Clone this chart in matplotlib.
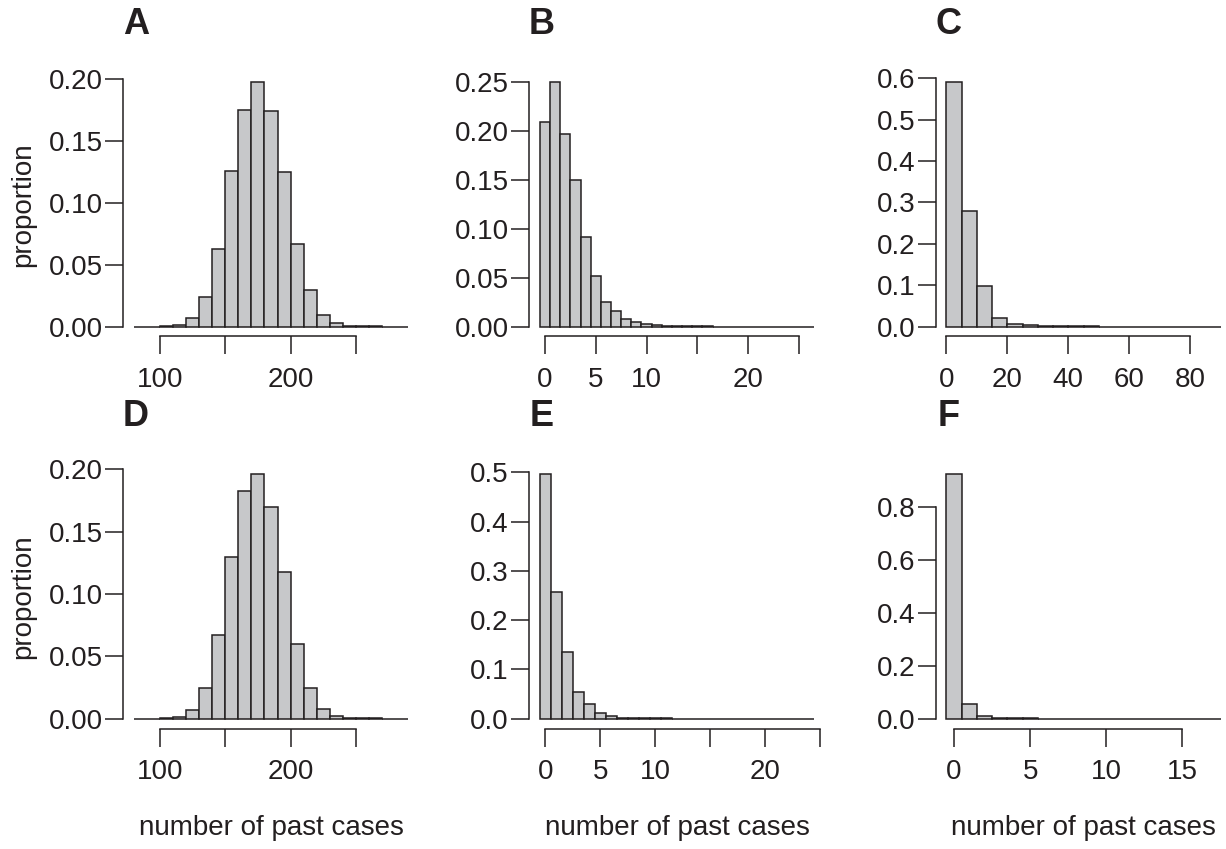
import numpy as np
import matplotlib
matplotlib.use("Agg")
from matplotlib import pyplot as plt

plt.rcParams['font.family'] = ['Liberation Sans', 'DejaVu Sans']

ink = '#231f20'
fill = '#c7c8ca'

# proportions of simulations per bin
# A / D: bins of width 10 starting at 80
a_props = [0, 0, 0.0005, 0.0013, 0.0067, 0.024, 0.063, 0.126, 0.175, 0.198, 0.174,
           0.125, 0.067, 0.030, 0.0094, 0.003, 0.0006, 0.0003, 0.0002, 0, 0]
d_props = [0, 0, 0.0003, 0.001, 0.0073, 0.0247, 0.0675, 0.130, 0.183, 0.1965, 0.1696,
           0.1175, 0.060, 0.0245, 0.0078, 0.0022, 0.0005, 0.0003, 0.0002, 0, 0]
# B / E / F: one bin per integer count, starting at 0
b_props = [0.2085, 0.25, 0.1966, 0.1497, 0.0912, 0.052, 0.0248, 0.0163, 0.0078, 0.0048,
           0.003, 0.0017, 0.001, 0.0006, 0.0005, 0.0004, 0.0003, 0.0002,
           0, 0, 0, 0, 0, 0, 0, 0, 0]
e_props = [0.497, 0.2565, 0.1347, 0.055, 0.0306, 0.0122, 0.0054, 0.002, 0.0014, 0.0008,
           0.0006, 0.0005, 0, 0, 0, 0, 0, 0, 0, 0, 0, 0, 0, 0, 0]
f_props = [0.925, 0.0544, 0.010, 0.004, 0.0015, 0.0008, 0.0006,
           0, 0, 0, 0, 0, 0, 0, 0, 0, 0, 0]
# C: bins of width 5 starting at 0
c_props = [0.591, 0.280, 0.098, 0.020, 0.0065, 0.0035, 0.002, 0.0012, 0.001, 0.0008,
           0, 0, 0, 0, 0, 0, 0, 0]

panels = [
    # letter, props, first bin edge, bin width, yticks, ylabels, xticks, xlabels
    ('A', a_props, 80, 10, [0, 0.05, 0.10, 0.15, 0.20], ['0.00', '0.05', '0.10', '0.15', '0.20'],
     [100, 150, 200, 250], ['100', '', '200', '']),
    ('B', b_props, -0.5, 1, [0, 0.05, 0.10, 0.15, 0.20, 0.25],
     ['0.00', '0.05', '0.10', '0.15', '0.20', '0.25'],
     [0, 5, 10, 15, 20, 25], ['0', '5', '10', '', '20', '']),
    ('C', c_props, 0, 5, [0, 0.1, 0.2, 0.3, 0.4, 0.5, 0.6],
     ['0.0', '0.1', '0.2', '0.3', '0.4', '0.5', '0.6'],
     [0, 20, 40, 60, 80], ['0', '20', '40', '60', '80']),
    ('D', d_props, 80, 10, [0, 0.05, 0.10, 0.15, 0.20], ['0.00', '0.05', '0.10', '0.15', '0.20'],
     [100, 150, 200, 250], ['100', '', '200', '']),
    ('E', e_props, -0.5, 1, [0, 0.1, 0.2, 0.3, 0.4, 0.5],
     ['0.0', '0.1', '0.2', '0.3', '0.4', '0.5'],
     [0, 5, 10, 15, 20, 25], ['0', '5', '10', '', '20', '']),
    ('F', f_props, -0.5, 1, [0, 0.2, 0.4, 0.6, 0.8], ['0.0', '0.2', '0.4', '0.6', '0.8'],
     [0, 5, 10, 15], ['0', '5', '10', '15']),
]

W, H = 1226, 849
fig = plt.figure(figsize=(W / 100, H / 100), dpi=100)

col_left = [123, 529, 935.5]
row_top = [72, 464]
ax_w, ax_h = 296, 264.5

for i, (letter, props, start, width, yt, ylab, xt, xlab) in enumerate(panels):
    r, c = divmod(i, 3)
    left, top = col_left[c], row_top[r]
    ax = fig.add_axes([left / W, 1 - (top + ax_h) / H, ax_w / W, ax_h / H])

    props = np.array(props)
    lefts = start + width * np.arange(len(props))
    ax.bar(lefts, props, width=width, align='edge', color=fill,
           edgecolor=ink, linewidth=1.1)

    lo, hi = start, start + width * len(props)
    pad_x = 0.04 * (hi - lo)
    ax.set_xlim(lo - pad_x, hi + pad_x)
    ymax = props.max()
    ax.set_ylim(-0.04 * ymax, 1.04 * ymax)

    for s in ('top', 'right'):
        ax.spines[s].set_visible(False)
    ax.spines['left'].set_bounds(yt[0], yt[-1])
    ax.spines['bottom'].set_bounds(xt[0], xt[-1])
    for s in ('left', 'bottom'):
        ax.spines[s].set_linewidth(1.1)
        ax.spines[s].set_color(ink)

    ax.set_yticks(yt)
    ax.set_yticklabels(ylab)
    ax.set_xticks(xt)
    ax.set_xticklabels(xlab)
    ax.tick_params(axis='both', direction='out', length=13, width=1.1,
                   color=ink, labelcolor=ink, labelsize=20)
    ax.tick_params(axis='y', pad=1.5)
    ax.tick_params(axis='x', pad=9)

    fig.text((left + 13) / W, 1 - (top - 47.5) / H, letter, fontsize=26,
             fontweight='bold', color=ink, ha='center', va='center')

    if c == 0:
        fig.text(23 / W, 1 - (top + ax_h / 2) / H, 'proportion', rotation=90,
                 fontsize=20, color=ink, ha='center', va='center')
    if r == 1:
        fig.text((left + ax_w / 2) / W, 1 - 828 / H, 'number of past cases',
                 fontsize=20, color=ink, ha='center', va='center')

fig.savefig('out.png', dpi=100)
